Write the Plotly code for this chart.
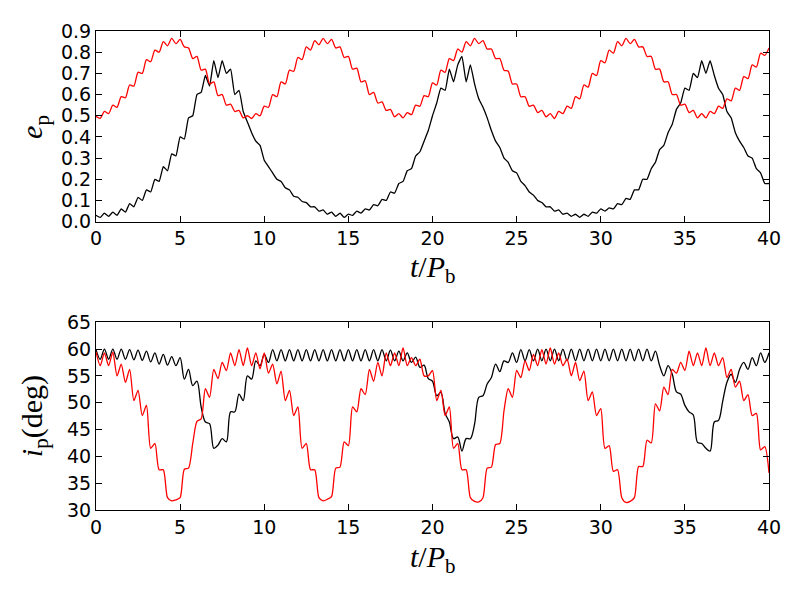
import numpy as np
import plotly.graph_objects as go

# time grid in units of binary period (sampling step 0.25)
t_grid = np.arange(0, 40.001, 0.25)

# eccentricity, red planet
ecc_red = [
    0.497, 0.488, 0.52, 0.51,
    0.55, 0.54, 0.59, 0.585,
    0.645, 0.64, 0.705, 0.70,
    0.765, 0.755, 0.81, 0.80,
    0.85, 0.83, 0.865, 0.84,
    0.86, 0.825, 0.82, 0.77,
    0.78, 0.715, 0.72, 0.65,
    0.66, 0.595, 0.60, 0.55,
    0.555, 0.52, 0.525, 0.49,
    0.50, 0.487, 0.51, 0.50,
    0.545, 0.54, 0.60, 0.59,
    0.66, 0.65, 0.715, 0.71,
    0.775, 0.765, 0.825, 0.81,
    0.855, 0.835, 0.865, 0.84,
    0.86, 0.82, 0.825, 0.775,
    0.78, 0.72, 0.725, 0.66,
    0.665, 0.60, 0.61, 0.56,
    0.565, 0.525, 0.53, 0.495,
    0.51, 0.49, 0.515, 0.505,
    0.55, 0.545, 0.595, 0.59,
    0.655, 0.645, 0.715, 0.705,
    0.77, 0.76, 0.815, 0.80,
    0.85, 0.83, 0.865, 0.84,
    0.855, 0.815, 0.815, 0.77,
    0.77, 0.715, 0.71, 0.65,
    0.65, 0.59, 0.59, 0.545,
    0.55, 0.515, 0.525, 0.495,
    0.51, 0.487, 0.52, 0.51,
    0.545, 0.535, 0.59, 0.58,
    0.645, 0.635, 0.70, 0.69,
    0.76, 0.75, 0.81, 0.795,
    0.85, 0.83, 0.865, 0.84,
    0.86, 0.825, 0.825, 0.78,
    0.78, 0.72, 0.72, 0.66,
    0.66, 0.60, 0.60, 0.55,
    0.555, 0.515, 0.525, 0.49,
    0.51, 0.49, 0.52, 0.51,
    0.545, 0.535, 0.58, 0.57,
    0.63, 0.62, 0.685, 0.675,
    0.74, 0.73, 0.795, 0.785,
    0.82,
]

# eccentricity, black planet
ecc_black = [
    0.03, 0.02, 0.04, 0.025,
    0.045, 0.03, 0.06, 0.045,
    0.085, 0.07, 0.115, 0.10,
    0.15, 0.14, 0.20, 0.19,
    0.26, 0.24, 0.32, 0.31,
    0.40, 0.39, 0.49, 0.50,
    0.60, 0.61, 0.69, 0.64,
    0.76, 0.68, 0.76, 0.70,
    0.72, 0.60, 0.62, 0.52,
    0.47, 0.42, 0.38, 0.36,
    0.29, 0.26, 0.23, 0.20,
    0.19, 0.16, 0.15, 0.12,
    0.115, 0.095, 0.09, 0.07,
    0.07, 0.05, 0.055, 0.035,
    0.045, 0.025, 0.04, 0.02,
    0.035, 0.03, 0.05, 0.04,
    0.06, 0.055, 0.08, 0.075,
    0.105, 0.10, 0.14, 0.135,
    0.18, 0.19, 0.24, 0.25,
    0.31, 0.33, 0.38, 0.43,
    0.50, 0.56, 0.63, 0.62,
    0.72, 0.66, 0.74, 0.78,
    0.66, 0.74, 0.65, 0.58,
    0.54, 0.49, 0.43, 0.38,
    0.35, 0.30, 0.28, 0.24,
    0.23, 0.19, 0.17, 0.14,
    0.125, 0.10, 0.09, 0.07,
    0.07, 0.05, 0.055, 0.035,
    0.04, 0.025, 0.035, 0.02,
    0.035, 0.025, 0.045, 0.04,
    0.06, 0.05, 0.065, 0.06,
    0.085, 0.08, 0.11, 0.105,
    0.15, 0.15, 0.20, 0.20,
    0.25, 0.28, 0.34, 0.36,
    0.42, 0.46, 0.53, 0.56,
    0.63, 0.62, 0.70, 0.68,
    0.76, 0.70, 0.76, 0.69,
    0.63, 0.60, 0.52, 0.49,
    0.42, 0.38, 0.35, 0.31,
    0.30, 0.25, 0.23, 0.18,
    0.18,
]

# inclination (deg), red planet
inc_red = [
    59.5, 56.9, 59.3, 56.9,
    59.4, 55.0, 57.2, 53.8,
    56.2, 50.4, 52.3, 47.6,
    49.5, 41.5, 42.4, 37.5,
    37.5, 32.3, 31.7, 31.9,
    32.3, 37.6, 37.8, 42.4,
    46.5, 47.0, 52.6, 51.0,
    56.2, 54.5, 57.5, 56.0,
    59.3, 56.9, 59.9, 56.9,
    60.2, 56.9, 59.3, 56.3,
    59.3, 55.5, 57.2, 53.5,
    55.9, 50.4, 52.3, 47.6,
    49.2, 41.5, 42.4, 37.5,
    37.5, 32.3, 31.7, 32.0,
    32.5, 37.8, 38.0, 42.7,
    42.0, 49.2, 48.3, 52.6,
    51.5, 56.2, 54.0, 57.5,
    55.0, 59.3, 56.9, 59.3,
    56.9, 60.2, 56.9, 58.4,
    56.9, 58.1, 55.0, 55.0,
    56.0, 50.4, 52.3, 47.6,
    49.2, 41.5, 42.4, 37.5,
    37.5, 32.3, 31.6, 31.5,
    32.3, 37.8, 38.0, 42.2,
    42.4, 48.5, 52.6, 51.0,
    56.0, 54.7, 57.8, 56.0,
    59.0, 56.9, 59.9, 57.2,
    60.2, 57.2, 59.3, 56.9,
    58.1, 55.0, 57.5, 54.1,
    55.9, 50.4, 52.0, 47.6,
    48.9, 41.5, 42.0, 37.2,
    37.5, 32.3, 31.4, 31.6,
    32.3, 38.1, 38.1, 43.0,
    42.5, 49.8, 48.5, 52.9,
    51.5, 56.2, 55.5, 57.5,
    56.0, 59.6, 56.9, 59.3,
    56.9, 60.2, 56.9, 59.3,
    56.9, 58.4, 54.7, 56.2,
    52.9, 54.0, 50.4, 51.5,
    47.6, 48.0, 41.2, 41.8,
    36.9,
]

# inclination (deg), black planet
inc_black = [
    59.9, 58.1, 60.0, 58.1,
    60.0, 58.1, 60.0, 58.1,
    59.9, 58.0, 59.8, 57.9,
    59.6, 57.6, 59.3, 57.2,
    59.0, 57.0, 58.6, 56.9,
    58.4, 54.4, 56.2, 53.2,
    54.0, 49.2, 46.4, 46.1,
    41.5, 42.1, 43.3, 42.7,
    48.3, 48.3, 51.6, 50.4,
    55.0, 54.4, 57.8, 56.9,
    59.0, 57.5, 59.9, 57.8,
    59.9, 57.8, 59.9, 57.8,
    59.9, 57.8, 59.9, 57.8,
    59.9, 57.8, 59.9, 57.8,
    59.9, 57.8, 59.9, 57.8,
    59.9, 57.8, 59.9, 57.8,
    59.9, 57.8, 59.9, 57.8,
    59.9, 57.8, 59.8, 57.8,
    59.6, 57.8, 59.3, 57.5,
    58.5, 56.6, 57.0, 54.5,
    54.0, 51.3, 51.9, 48.0,
    46.4, 43.3, 43.6, 41.0,
    43.3, 43.3, 46.0, 51.0,
    51.3, 53.5, 54.7, 57.2,
    55.8, 57.8, 57.5, 59.3,
    57.5, 59.9, 57.8, 59.9,
    57.8, 60.0, 57.8, 60.0,
    57.8, 60.0, 57.8, 60.0,
    57.8, 60.0, 57.8, 60.0,
    57.8, 60.0, 57.8, 60.0,
    57.8, 60.0, 57.8, 60.0,
    57.8, 60.0, 57.8, 60.0,
    57.8, 60.0, 57.8, 60.0,
    57.8, 59.6, 56.9, 55.0,
    56.9, 55.3, 52.0, 51.6,
    49.5, 48.3, 47.7, 42.6,
    42.4, 41.5, 41.0, 46.4,
    46.7, 50.3, 53.8, 55.3,
    53.8, 56.2, 57.5, 56.2,
    58.4, 56.9, 59.3, 57.5,
    59.3,
]

x_ticks = [0, 5, 10, 15, 20, 25, 30, 35, 40]
e_ticks = [0.0, 0.1, 0.2, 0.3, 0.4, 0.5, 0.6, 0.7, 0.8, 0.9]
i_ticks = [30, 35, 40, 45, 50, 55, 60, 65]

fig = go.Figure()
lw = 1.3
red_line = dict(color="red", width=lw, shape="spline", smoothing=0.7)
black_e_line = dict(color="black", width=lw, shape="spline", smoothing=0.4)
black_i_line = dict(color="black", width=lw, shape="spline", smoothing=0.9)
fig.add_trace(go.Scatter(x=t_grid, y=ecc_black, mode="lines",
                         line=black_e_line, xaxis="x", yaxis="y"))
fig.add_trace(go.Scatter(x=t_grid, y=ecc_red, mode="lines",
                         line=red_line, xaxis="x", yaxis="y"))
fig.add_trace(go.Scatter(x=t_grid, y=inc_black, mode="lines",
                         line=black_i_line, xaxis="x2", yaxis="y2"))
fig.add_trace(go.Scatter(x=t_grid, y=inc_red, mode="lines",
                         line=red_line, xaxis="x2", yaxis="y2"))

tickfont = dict(family="DejaVu Sans", size=19, color="black")
axis_common = dict(showline=True, linecolor="black", linewidth=1, mirror="allticks",
                   ticks="inside", ticklen=6, tickcolor="black", tickwidth=1,
                   showgrid=False, zeroline=False, tickfont=tickfont)

# page body adds an 8px offset, so margins are shifted to compensate
fig.update_layout(
    width=800, height=600,
    paper_bgcolor="white", plot_bgcolor="white",
    showlegend=False,
    margin=dict(l=88, r=39, t=17, b=98),
    xaxis=dict(domain=[0, 1], range=[0, 40], anchor="y", tickvals=x_ticks, **axis_common),
    yaxis=dict(domain=[0.602, 1.0], range=[0, 0.9], anchor="x", tickvals=e_ticks,
               tickformat=".1f", **axis_common),
    xaxis2=dict(domain=[0, 1], range=[0, 40], anchor="y2", tickvals=x_ticks, **axis_common),
    yaxis2=dict(domain=[0.0, 0.392], range=[30, 65], anchor="x2", tickvals=i_ticks,
                **axis_common),
)

title_font = dict(family="Liberation Serif", size=30, color="black")
fig.add_annotation(text="<i>t</i>/<i>P</i><sub>b</sub>", xref="paper", yref="paper",
                   x=0.5, y=0.503, xanchor="center", yanchor="middle",
                   showarrow=False, font=title_font)
fig.add_annotation(text="<i>t</i>/<i>P</i><sub>b</sub>", xref="paper", yref="paper",
                   x=0.5, y=-0.102, xanchor="center", yanchor="middle",
                   showarrow=False, font=title_font)
fig.add_annotation(text="<i>e</i><sub>p</sub>", xref="paper", yref="paper",
                   x=-0.092, y=0.80, xanchor="center", yanchor="middle", textangle=-90,
                   showarrow=False, font=title_font)
fig.add_annotation(text="<i>i</i><sub>p</sub>(deg)", xref="paper", yref="paper",
                   x=-0.092, y=0.196, xanchor="center", yanchor="middle", textangle=-90,
                   showarrow=False, font=title_font)

fig.write_html("out.html")
